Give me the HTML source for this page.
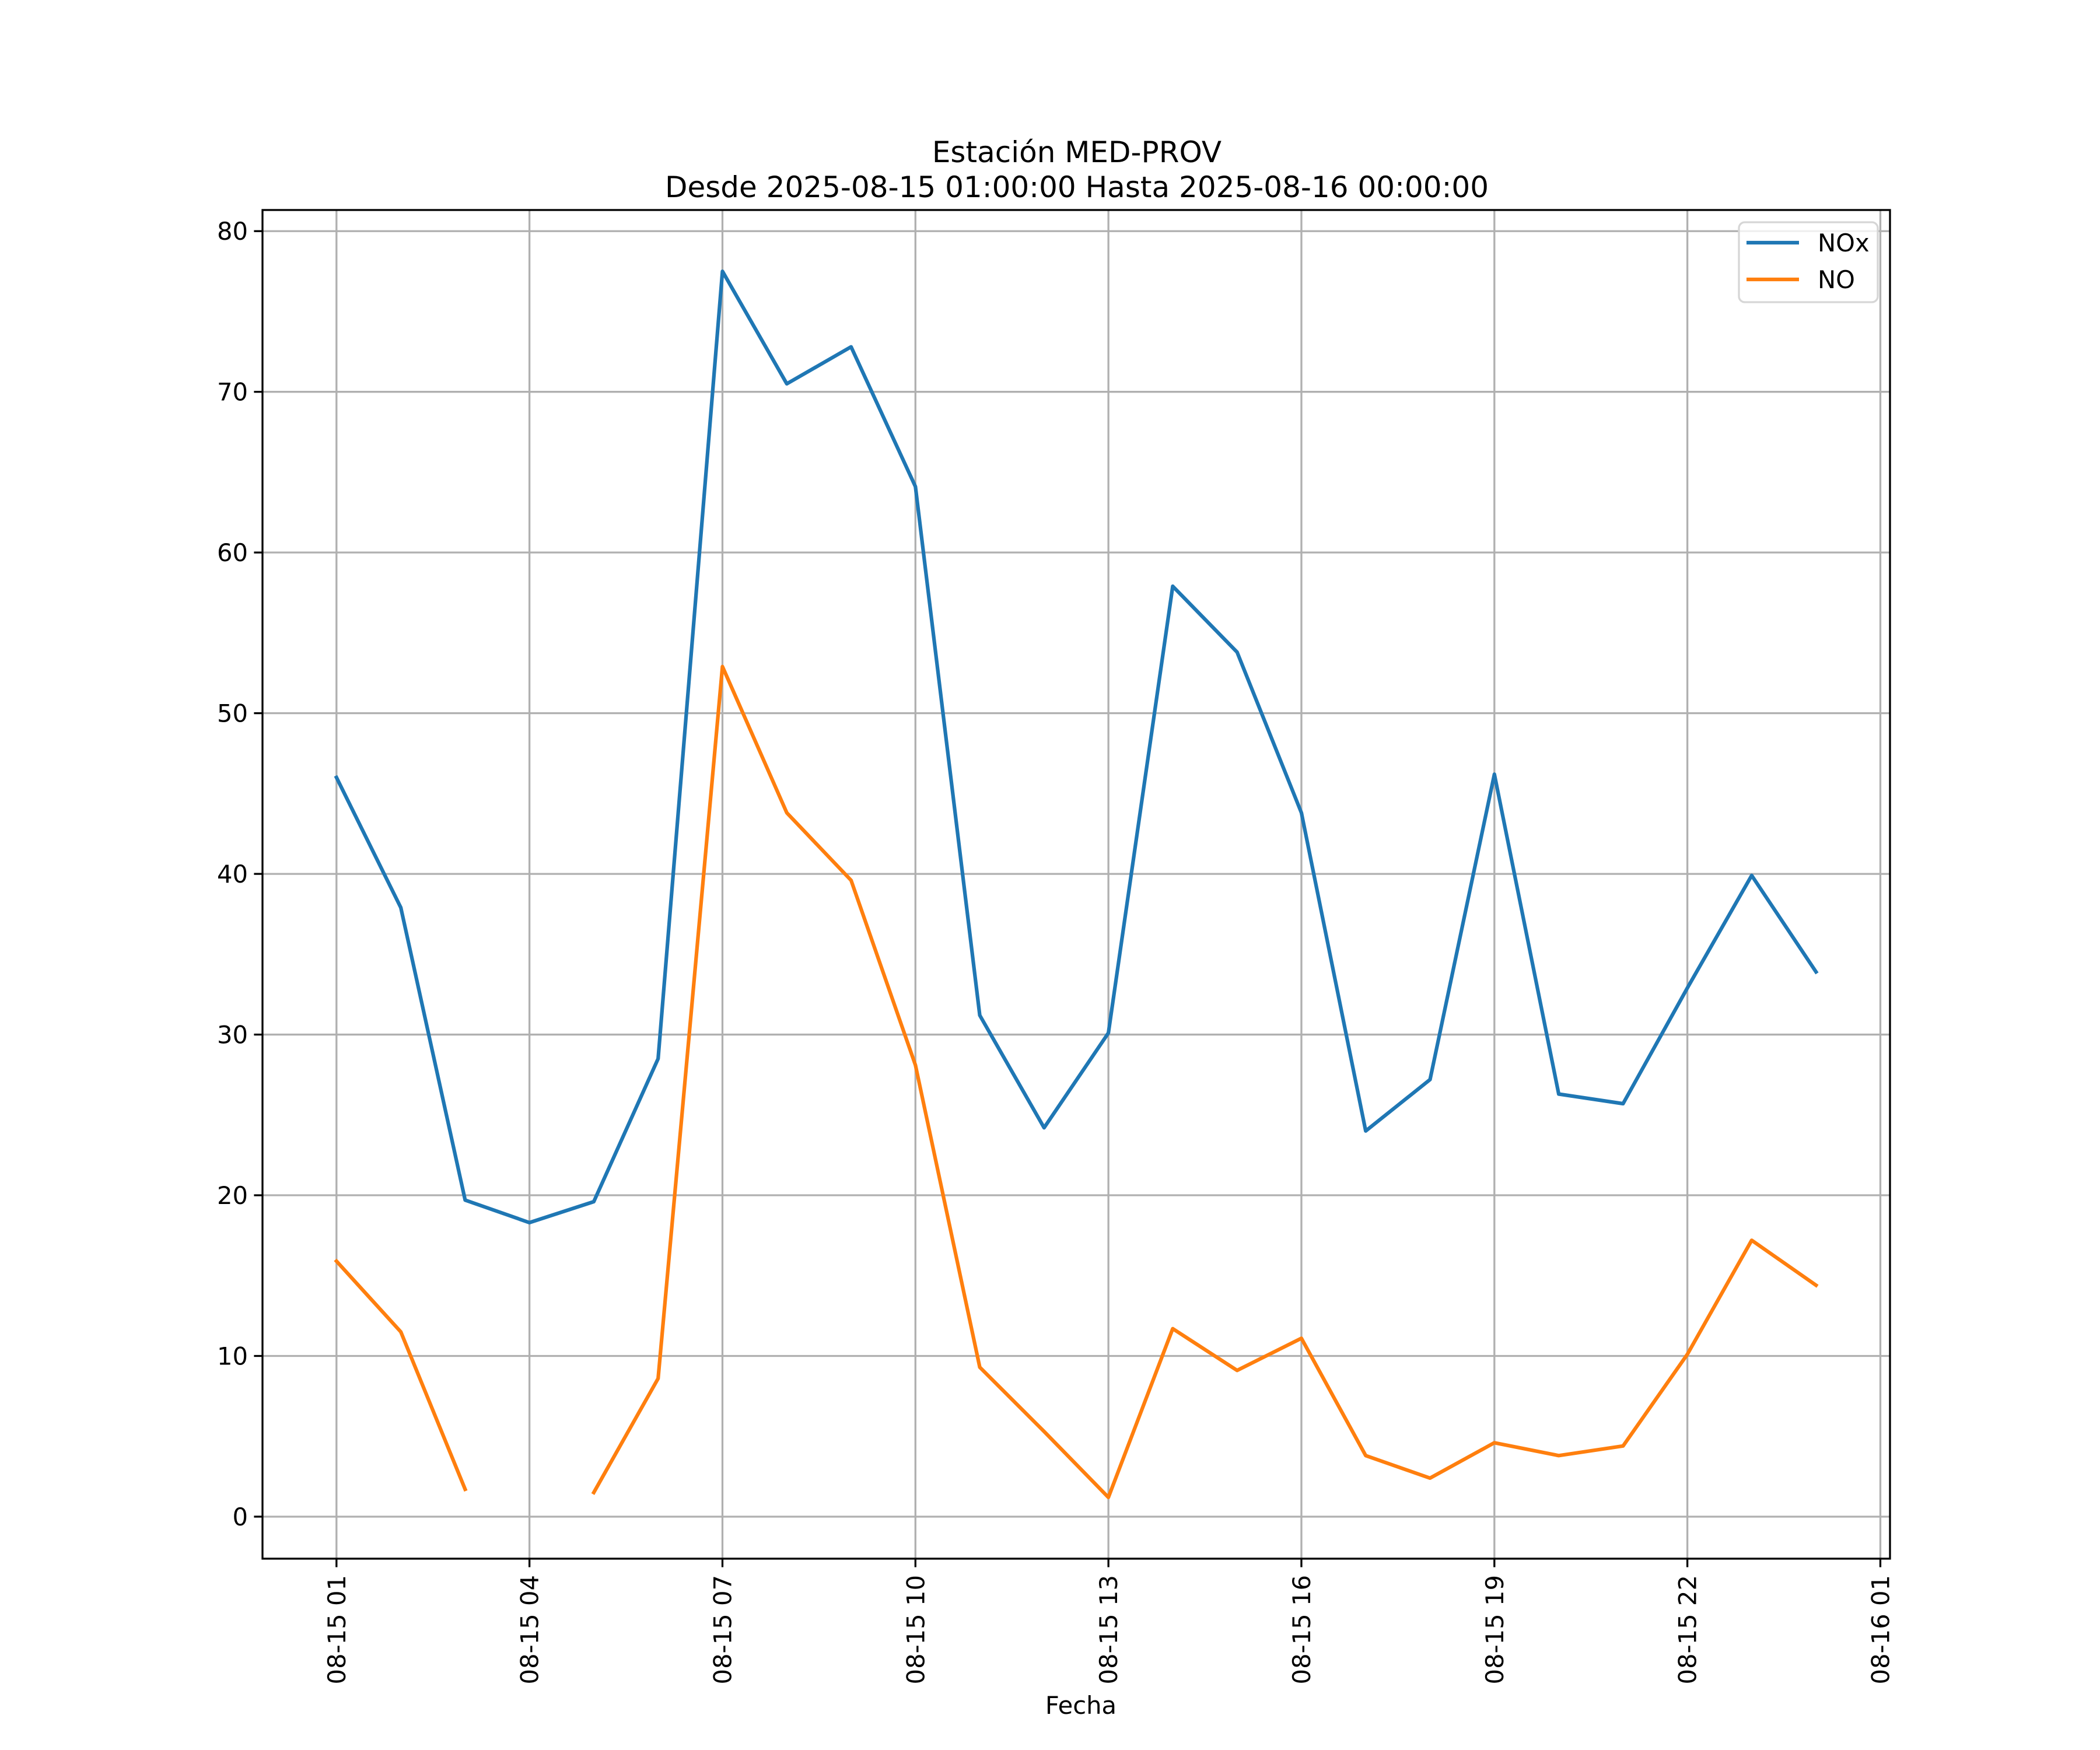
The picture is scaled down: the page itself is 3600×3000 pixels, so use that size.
<!DOCTYPE html>
<html><head><meta charset="utf-8"><style>
html,body{margin:0;padding:0;background:#fff;}
svg{display:block;font-family:"DejaVu Sans","Liberation Sans",sans-serif;}
</style></head><body>
<svg id="chart" width="3600" height="3000" viewBox="0 0 3600 3000">
<rect width="3600" height="3000" fill="#fff"/>
<text x="1846" y="278" font-size="50" text-anchor="middle">Estación MED-PROV</text>
<text x="1846" y="338" font-size="50" text-anchor="middle">Desde 2025-08-15 01:00:00 Hasta 2025-08-16 00:00:00</text>
<g id="grid"></g><g id="series"></g><g id="axes"></g><g id="legend"></g>
<text x="1853" y="2938" font-size="41.7" text-anchor="middle">Fecha</text>
</svg>
<script>
const hours=[1,2,3,4,5,6,7,8,9,10,11,12,13,14,15,16,17,18,19,20,21,22,23,24];
const noxValues=[46,37.9,19.7,18.3,19.6,28.5,77.5,70.5,72.8,64.1,31.2,24.2,30.1,57.9,53.8,43.8,24,27.2,46.2,26.3,25.7,32.9,39.9,33.9];
const noValues=[15.9,11.5,1.7,null,1.5,8.6,52.9,43.8,39.6,28.1,9.3,5.3,1.2,11.7,9.1,11.1,3.8,2.4,4.6,3.8,4.4,10.1,17.2,14.4];
const yTicks=[0,10,20,30,40,50,60,70,80];
const xTickHours=[1,4,7,10,13,16,19,22,25];
const xTickLabels=["08-15 01","08-15 04","08-15 07","08-15 10","08-15 13","08-15 16","08-15 19","08-15 22","08-16 01"];

const L=450,R=3240,T=360,B=2672;
const NS="http://www.w3.org/2000/svg";
const xs=hours, xspan=xs[xs.length-1]-xs[0];
const x0=xs[0]-0.05*xspan, x1=xs[xs.length-1]+0.05*xspan;
const all=noxValues.concat(noValues).filter(v=>v!==null);
const vmin=Math.min(...all), vmax=Math.max(...all), vs=vmax-vmin;
const y0=vmin-0.05*vs, y1=vmax+0.05*vs;
const X=h=>L+(h-x0)/(x1-x0)*(R-L);
const Y=v=>B-(v-y0)/(y1-y0)*(B-T);
function mk(tag,attrs,parent){const e=document.createElementNS(NS,tag);for(const k in attrs)e.setAttribute(k,attrs[k]);parent.appendChild(e);return e;}
const grid=document.getElementById('grid'),axes=document.getElementById('axes'),series=document.getElementById('series'),legend=document.getElementById('legend');

yTicks.forEach(v=>{
  const y=Y(v);
  const g=mk('line',{x1:L,x2:R,y1:y,y2:y,stroke:'#b0b0b0','stroke-width':3.3},grid);
  
  
  const t=mk('line',{x1:L-14.6,x2:L,y1:y,y2:y,stroke:'#000','stroke-width':3.3},axes);
  
  
  const lb=mk('text',{x:L-25,y:y+15,'font-size':41.7,'text-anchor':'end'},axes);
  lb.textContent=v;
  
  
});
xTickHours.forEach((h,i)=>{
  const x=X(h);
  const g=mk('line',{x1:x,x2:x,y1:T,y2:B,stroke:'#b0b0b0','stroke-width':3.3},grid);
  
  
  const t=mk('line',{x1:x,x2:x,y1:B,y2:B+14.6,stroke:'#000','stroke-width':3.3},axes);
  
  
  const lb=mk('text',{x:0,y:0,'font-size':41.7,'text-anchor':'end',transform:`translate(${x+15},${B+28}) rotate(-90)`},axes);
  lb.textContent=xTickLabels[i];
  
  
});
const frame=mk('rect',{x:L,y:T,width:R-L,height:B-T,fill:'none',stroke:'#000','stroke-width':3.3},axes);



function drawSeries(vals,color,name){
  let d='',pen=false;
  vals.forEach((v,i)=>{
    if(v===null){pen=false;return;}
    d+=(pen?'L':'M')+X(hours[i]).toFixed(1)+','+Y(v).toFixed(1);
    pen=true;
  });
  const p=mk('path',{d:d,fill:'none',stroke:color,'stroke-width':6.25,'stroke-linejoin':'round','stroke-linecap':'square'},series);
  
  
}
drawSeries(noxValues,'#1f77b4','nox-line');
drawSeries(noValues,'#ff7f0e','no-line');

const box=mk('rect',{x:2981,y:381,width:238,height:137,rx:10,fill:'#fff','fill-opacity':0.8,stroke:'#d6d6d6','stroke-width':3.3},legend);


[['NOx','#1f77b4',416],['NO','#ff7f0e',479]].forEach(([lab,c,y])=>{
  const ln=mk('line',{x1:2994,x2:3084,y1:y,y2:y,stroke:c,'stroke-width':6.25},legend);
  
  
  const t=mk('text',{x:3116,y:y+15,'font-size':41.7},legend);
  t.textContent=lab;
  
  
});
</script>
</body></html>
